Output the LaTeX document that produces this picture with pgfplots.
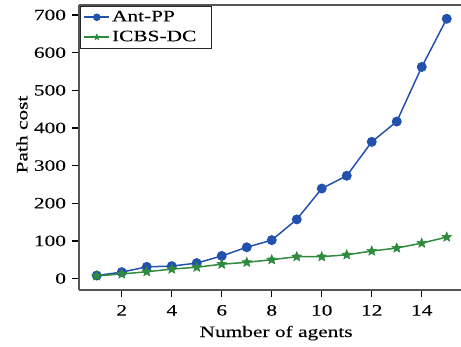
\documentclass[border=0pt]{standalone}
\usepackage{fontspec}
\setmainfont[FakeStretch=1.34, FakeBold=0.12]{Liberation Serif}
\usepackage{pgfplots}
\pgfplotsset{compat=1.18}
\definecolor{antblue}{HTML}{2352AE}
\definecolor{icbsgreen}{HTML}{2F8A3E}
\definecolor{axgray}{HTML}{555555}
\pgfdeclareplotmark{fstar}{%
  \pgfpathmoveto{\pgfpointpolar{90}{\pgfplotmarksize}}%
  \pgfpathlineto{\pgfpointpolar{126}{0.45\pgfplotmarksize}}%
  \pgfpathlineto{\pgfpointpolar{162}{\pgfplotmarksize}}%
  \pgfpathlineto{\pgfpointpolar{198}{0.45\pgfplotmarksize}}%
  \pgfpathlineto{\pgfpointpolar{234}{\pgfplotmarksize}}%
  \pgfpathlineto{\pgfpointpolar{270}{0.45\pgfplotmarksize}}%
  \pgfpathlineto{\pgfpointpolar{306}{\pgfplotmarksize}}%
  \pgfpathlineto{\pgfpointpolar{342}{0.45\pgfplotmarksize}}%
  \pgfpathlineto{\pgfpointpolar{18}{\pgfplotmarksize}}%
  \pgfpathlineto{\pgfpointpolar{54}{0.45\pgfplotmarksize}}%
  \pgfpathclose
  \pgfusepathqfillstroke}
\begin{document}
\fontsize{16}{19}\selectfont
\begin{tikzpicture}
\begin{axis}[
  name=ax,
  scale only axis,
  width=382bp, height=285bp,
  xmin=0.29, xmax=15.57,
  ymin=-30.5, ymax=726.6,
  axis x line*=box,
  axis y line*=left,
  xtick={2,4,...,14},
  ytick={0,100,...,700},
  xtick pos=bottom, ytick pos=left,
  tick align=outside,
  major tick length=6.5bp,
  every tick/.style={black, line width=1.3pt},
  axis line style={axgray, line width=1.5pt},
  /pgf/number format/assume math mode=true,
  tick label style={font=\fontsize{16}{19}\selectfont},
  yticklabel style={xshift=-1bp},
  xticklabel style={yshift=-3bp},
  label style={font=\fontsize{16}{19}\selectfont},
  xlabel={Number of agents},
  ylabel={Path cost},
  every axis x label/.style={at={(rel axis cs:0.516,0)}, anchor=base, yshift=-47bp},
  every axis y label/.style={at={(rel axis cs:0,0.5456)}, xshift=-57bp, anchor=center, rotate=90},
  legend cell align=left,
  legend image code/.code={\draw[mark repeat=2, mark phase=2, #1, mark size=3bp] plot coordinates {(0cm,0cm) (0.44cm,0cm) (0.88cm,0cm)};},
  legend style={at={(rel axis cs:0.003,0.997)}, anchor=north west, draw=black!85, line width=0.9pt,
    font=\fontsize{16}{18}\selectfont, inner xsep=3pt, inner ysep=2.5pt, row sep=3pt},
]
\addplot[antblue, line width=1.5pt, mark=*, mark size=4.2bp, mark options={fill=antblue, draw=antblue}]
coordinates {(1,8) (2,17) (3,31) (4,33) (5,41) (6,60) (7,83) (8,102) (9,157) (10,239) (11,273) (12,363) (13,417) (14,562) (15,690)};
\addlegendentry{Ant-PP}
\addplot[icbsgreen, line width=1.5pt, mark=fstar, mark size=5bp, mark options={draw=icbsgreen, fill=icbsgreen, line width=0.6pt}]
coordinates {(1,7) (2,12) (3,18) (4,25) (5,30) (6,38) (7,43) (8,50) (9,58) (10,58) (11,63) (12,73) (13,81) (14,94) (15,110)};
\addlegendentry{ICBS-DC\hspace*{10bp}}
\end{axis}
\pgfresetboundingbox
\path (ax.south west) ++(-79bp,-57bp) rectangle ++(461bp,347bp);
\end{tikzpicture}
\end{document}
